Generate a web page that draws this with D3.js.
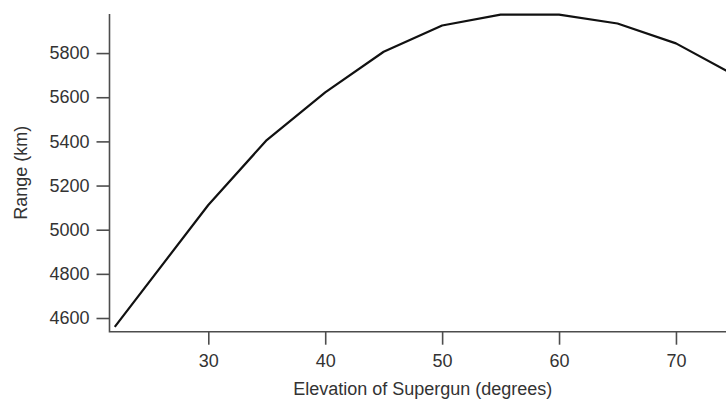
<!DOCTYPE html>
<html>
<head>
<meta charset="utf-8">
<script src="https://cdn.jsdelivr.net/npm/d3@7/dist/d3.min.js"></script>
<style>
  html, body { margin: 0; padding: 0; background: #fff; }
  svg { display: block; }
  text { font-family: "Liberation Sans", Arial, sans-serif; fill: #333; }
</style>
</head>
<body>
<svg id="chart" width="726" height="401"></svg>
<script>
// Data
const elevation = [22, 30, 35, 40, 45, 50, 55, 60, 65, 70, 75];
const rangeKm   = [4560, 5112, 5406, 5622, 5806, 5925, 5974, 5974, 5934, 5844, 5700];
const xTicks = [30, 40, 50, 60, 70];
const yTicks = [4600, 4800, 5000, 5200, 5400, 5600, 5800];
const xLabel = "Elevation of Supergun (degrees)";
const yLabel = "Range (km)";

const svg = d3.select("#chart");
const mLeft = 109.5, mRight = 726, mTop = 14, mBottom = 331.7;

const x = d3.scaleLinear().domain([21.55, 74.28]).range([mLeft, mRight]);
const y = d3.scaleLinear().domain([4538, 5977]).range([mBottom, mTop]);

const axisColor = "#4d4d4d";
const fontSize = "18px";

// X axis
const gx = svg.append("g").attr("transform", `translate(0,${mBottom})`)
  .call(d3.axisBottom(x).tickValues(xTicks).tickSize(13).tickPadding(10).tickFormat(d3.format("d")));
gx.select(".domain").remove();
gx.selectAll("line").attr("stroke", axisColor).attr("stroke-width", 1.6);
gx.selectAll("text").style("font-size", fontSize).attr("fill", "#333");

// Y axis
const gy = svg.append("g").attr("transform", `translate(${mLeft},0)`)
  .call(d3.axisLeft(y).tickValues(yTicks).tickSize(13).tickPadding(7).tickFormat(d3.format("d")));
gy.select(".domain").remove();
gy.selectAll("line").attr("stroke", axisColor).attr("stroke-width", 1.6);
gy.selectAll("text").style("font-size", fontSize).attr("fill", "#333");

// L-shaped frame
svg.append("path")
  .attr("d", `M${mLeft},${mTop}V${mBottom}H${mRight}`)
  .attr("fill", "none").attr("stroke", axisColor).attr("stroke-width", 1.6);

// Line
const pts = elevation.map((e, i) => [e, rangeKm[i]]);
svg.append("path")
  .datum(pts)
  .attr("fill", "none")
  .attr("stroke", "#111")
  .attr("stroke-width", 2.2)
  .attr("stroke-linejoin", "round")
  .attr("d", d3.line().x(d => x(d[0])).y(d => y(d[1])));

// Axis titles
svg.append("text")
  .attr("x", (mLeft + mRight) / 2 + 5)
  .attr("y", 395)
  .attr("text-anchor", "middle")
  .style("font-size", fontSize)
  .text(xLabel);

svg.append("text")
  .attr("transform", `translate(27,${(mTop + mBottom) / 2}) rotate(-90)`)
  .attr("text-anchor", "middle")
  .style("font-size", fontSize)
  .text(yLabel);
</script>
</body>
</html>
